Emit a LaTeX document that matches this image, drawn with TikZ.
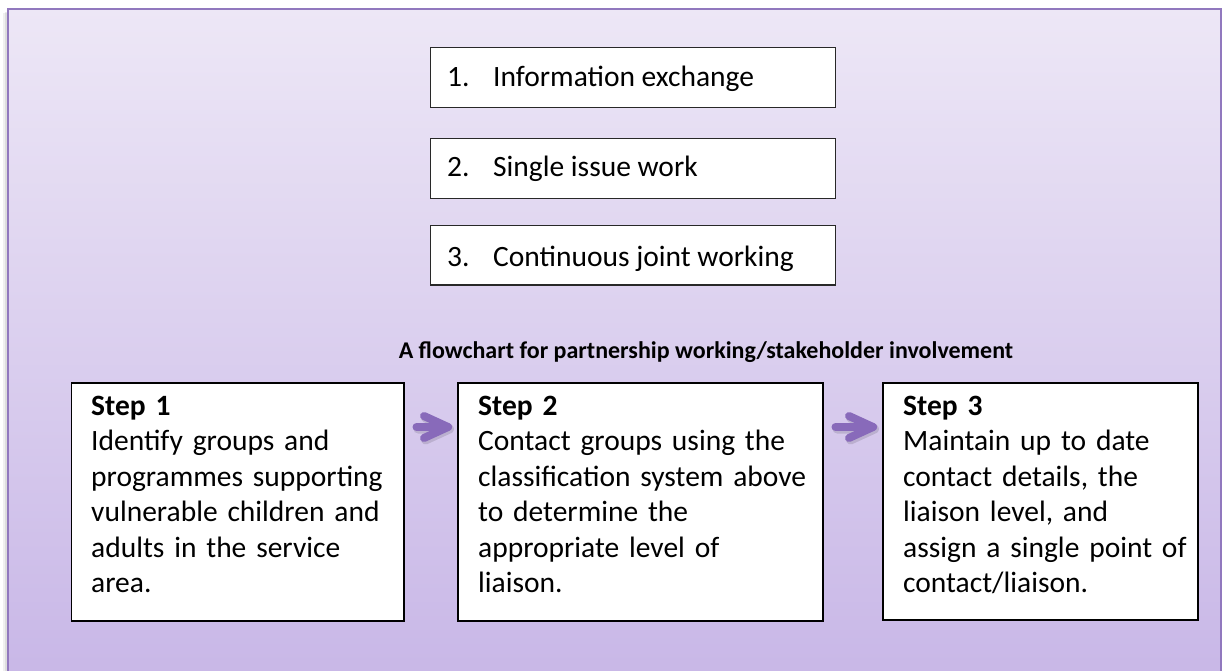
\documentclass[tikz,border=0pt]{standalone}
\usepackage{fontspec}
\setmainfont{Carlito}[WordSpace={1,0,0}]
\usetikzlibrary{calc}
\definecolor{frametop}{RGB}{237,231,246}
\definecolor{framebot}{RGB}{198,180,230}
\definecolor{frameline}{RGB}{145,120,190}
\definecolor{arrowpurple}{RGB}{136,106,186}
\definecolor{boxline}{RGB}{40,40,40}
\begin{document}
\begin{tikzpicture}[x=1pt,y=-1pt,
  bodyfont/.style={font=\fontsize{29.5}{35.5}\selectfont},
  levelbox/.style={draw=boxline, line width=1.3pt, fill=white, anchor=north west, inner sep=0pt},
  stepbox/.style={draw=black, line width=1.5pt, fill=white, anchor=north west, inner sep=0pt},
  steptext/.style={bodyfont, anchor=base west, inner sep=0pt, text width=340pt, align=left},
  leveltext/.style={bodyfont, anchor=base west, inner sep=0pt},
  titletext/.style={font=\fontsize{24}{28}\selectfont\bfseries, anchor=base, inner sep=0pt},
  flowarrow/.style={draw=arrowpurple, line width=8pt, line cap=round, line join=round},
  arrowshadow/.style={draw=black, opacity=0.12, line width=9pt, line cap=round, line join=round}]
\useasboundingbox (0,0) rectangle (1224,671);
\clip (0,0) rectangle (1224,671);
% frame shadow
\fill[black, opacity=0.06] (3,13) rectangle (8,720);
\fill[black, opacity=0.08] (5,12) rectangle (8,720);
% frame
\draw[draw=frameline, line width=2.2pt, top color=frametop, bottom color=framebot] (8,9) rectangle (1221,720);
% liaison level boxes
\node[levelbox, minimum width=405pt, minimum height=60pt] (l1) at (430,47) {};
\node[leveltext] (l1t) at (447,86.7) {\makebox[46pt][l]{1.}Information exchange};
\node[levelbox, minimum width=405pt, minimum height=60pt] (l2) at (430,138) {};
\node[leveltext] (l2t) at (447,176.7) {\makebox[46pt][l]{2.}Single issue work};
\node[levelbox, minimum width=405pt, minimum height=59.3pt] (l3) at (430,225) {};
\node[leveltext] (l3t) at (447,266.7) {\makebox[46pt][l]{3.}Continuous joint working};
% title
\node[titletext] (title) at (706,358) {A flowchart for partnership working/stakeholder involvement};
% steps
\node[stepbox, minimum width=332.3pt, minimum height=238pt] (s1) at (70.7,382) {};
\node[steptext] (s1t) at (91,415) {\textbf{Step 1}\\Identify groups and\\programmes supporting\\vulnerable children and\\adults in the service\\area.};
\node[stepbox, minimum width=365pt, minimum height=238pt] (s2) at (457,382) {};
\node[steptext] (s2t) at (478,415) {\textbf{Step 2}\\Contact groups using the\\classification system above\\to determine the\\appropriate level of\\liaison.};
\node[stepbox, minimum width=315pt, minimum height=237pt] (s3) at (882,382) {};
\node[steptext] (s3t) at (903,415) {\textbf{Step 3}\\Maintain up to date\\contact details, the\\liaison level, and\\assign a single point of\\contact/liaison.};
% arrows
\coordinate (a1s) at ([xshift=12pt,yshift=-45pt]s1.north east);
\coordinate (a1t) at ([xshift=-9pt,yshift=-45pt]s2.north west);
\coordinate (a2s) at ([xshift=12pt,yshift=-45pt]s2.north east);
\coordinate (a2t) at ([xshift=-9pt,yshift=-45pt]s3.north west);
\foreach \s/\t in {a1s/a1t, a2s/a2t}{
  \draw[arrowshadow, transform canvas={shift={(1.5pt,-2pt)}}] (\s) -- (\t)
    ([shift={(-24pt,11pt)}]\t) -- (\t) -- ([shift={(-24pt,-11pt)}]\t);
  \draw[flowarrow] (\s) -- (\t);
  \draw[flowarrow] ([shift={(-24pt,11pt)}]\t) -- (\t) -- ([shift={(-24pt,-11pt)}]\t);
}
\end{tikzpicture}
\end{document}
